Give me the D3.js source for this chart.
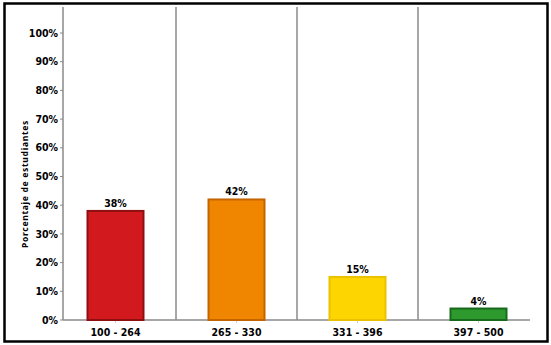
<!DOCTYPE html>
<html>
<head>
<meta charset="utf-8">
<script src="https://cdn.jsdelivr.net/npm/d3@7"></script>
<style>
  html, body { margin: 0; padding: 0; background: #fff; }
  svg { display: block; }
</style>
</head>
<body>
<div id="viz"></div>
<script>
// data
const categories = ['100 - 264', '265 - 330', '331 - 396', '397 - 500'];
const values = [38, 42, 15, 4];
const yTicks = [0, 10, 20, 30, 40, 50, 60, 70, 80, 90, 100];
const fills = ['#d21a1e', '#f08600', '#fdd500', '#2e9a2e'];
const strokes = ['#8f0f10', '#c46400', '#eac200', '#176a1b'];

const width = 551;
const height = 345;
const FONT = "'DejaVu Sans Condensed', 'DejaVu Sans', sans-serif";

const svg = d3.select('#viz')
  .append('svg')
  .attr('width', width)
  .attr('height', height);

// outer frame
svg.append('rect')
  .attr('x', 4.5).attr('y', 3.5)
  .attr('width', 543).attr('height', 338)
  .attr('fill', 'none')
  .attr('stroke', '#000')
  .attr('stroke-width', 2.5);

const x = d3.scaleBand().domain(categories).range([55, 539]).padding(0);
const y = d3.scaleLinear().domain([0, 100]).range([320, 33]);

const axisX0 = 63;
const topY = 7;

const label = sel => sel
  .style('font-family', FONT)
  .style('font-stretch', 'condensed')
  .style('font-weight', 'bold')
  .style('font-size', '10.5px');

// separators between categories
svg.selectAll('.sep')
  .data(categories.slice(1))
  .enter()
  .append('line')
  .attr('class', 'sep')
  .attr('x1', d => x(d)).attr('x2', d => x(d))
  .attr('y1', topY).attr('y2', y(0))
  .attr('stroke', '#8a8a8a')
  .attr('stroke-width', 1.5);

// left axis
svg.append('line')
  .attr('x1', axisX0).attr('x2', axisX0)
  .attr('y1', topY).attr('y2', y(0))
  .attr('stroke', '#8a8a8a')
  .attr('stroke-width', 1.5);

svg.selectAll('.ytick')
  .data(yTicks)
  .enter()
  .append('line')
  .attr('x1', axisX0 - 3).attr('x2', axisX0)
  .attr('y1', d => y(d)).attr('y2', d => y(d))
  .attr('stroke', '#8a8a8a');

svg.selectAll('.ylab')
  .data(yTicks)
  .enter()
  .append('text')
  .attr('x', 58)
  .attr('y', d => y(d))
  .attr('dy', '0.35em')
  .attr('text-anchor', 'end')
  .call(label)
  .text(d => d + '%');

// bottom axis
svg.append('line')
  .attr('x1', axisX0).attr('x2', 530)
  .attr('y1', y(0)).attr('y2', y(0))
  .attr('stroke', '#8a8a8a')
  .attr('stroke-width', 1.5);

svg.selectAll('.xtick')
  .data(categories)
  .enter()
  .append('line')
  .attr('x1', d => x(d) + x.bandwidth() / 2)
  .attr('x2', d => x(d) + x.bandwidth() / 2)
  .attr('y1', y(0)).attr('y2', y(0) + 3)
  .attr('stroke', '#cfcfcf');

svg.selectAll('.xlab')
  .data(categories)
  .enter()
  .append('text')
  .attr('x', d => x(d) + x.bandwidth() / 2)
  .attr('y', 336)
  .attr('text-anchor', 'middle')
  .call(label)
  .text(d => d);

// bars
const barW = 56;
svg.selectAll('.bar')
  .data(values)
  .enter()
  .append('rect')
  .attr('class', 'bar')
  .attr('x', (d, i) => x(categories[i]) + x.bandwidth() / 2 - barW / 2)
  .attr('y', d => y(d))
  .attr('width', barW)
  .attr('height', d => y(0) - y(d))
  .attr('fill', (d, i) => fills[i])
  .attr('stroke', (d, i) => strokes[i])
  .attr('stroke-width', 2);

svg.selectAll('.vlab')
  .data(values)
  .enter()
  .append('text')
  .attr('x', (d, i) => x(categories[i]) + x.bandwidth() / 2)
  .attr('y', d => y(d) - 4)
  .attr('text-anchor', 'middle')
  .call(label)
  .text(d => d + '%');

// y title
svg.append('text')
  .attr('transform', 'translate(28,184) rotate(-90)')
  .attr('text-anchor', 'middle')
  .style('font-family', "'Noto Sans', sans-serif")
  .style('font-weight', 'bold')
  .style('font-size', '8.5px')
  .style('letter-spacing', '0.7px')
  .text('Porcentaje de estudiantes');
</script>
</body>
</html>
